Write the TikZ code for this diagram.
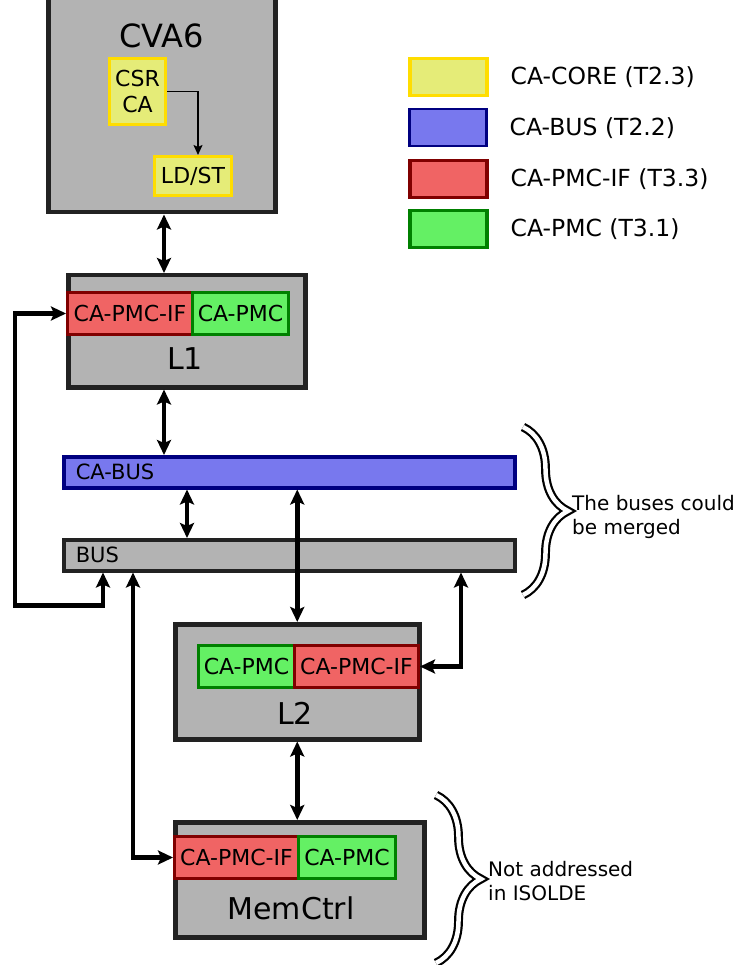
\documentclass[tikz,border=0pt]{standalone}
\usepackage{fontspec}
\setmainfont{DejaVu Sans}
\usetikzlibrary{arrows,arrows.meta,calc,positioning,decorations.pathreplacing}

\definecolor{blockgray}{HTML}{B3B3B3}
\definecolor{blockline}{HTML}{222222}
\definecolor{corefill}{HTML}{E5EC78}
\definecolor{coreline}{HTML}{FFDD00}
\definecolor{busfill}{HTML}{7878EE}
\definecolor{busline}{HTML}{000080}
\definecolor{iffill}{HTML}{F06464}
\definecolor{ifline}{HTML}{800000}
\definecolor{pmcfill}{HTML}{64F064}
\definecolor{pmcline}{HTML}{008000}

\begin{document}
\begin{tikzpicture}[x=1pt, y=-1pt]
			\tikzstyle{block}=[draw=blockline, fill=blockgray, line width=4.5pt, anchor=north west, inner sep=0pt]
			\tikzstyle{blockname}=[font=\fontsize{30}{36}\selectfont]
			\tikzstyle{part}=[line width=3pt, anchor=north west, inner sep=0pt, minimum height=42pt, font=\fontsize{22}{26}\selectfont]
			\tikzstyle{core}=[part, draw=coreline, fill=corefill]
			\tikzstyle{pmcif}=[part, draw=ifline, fill=iffill]
			\tikzstyle{pmc}=[part, draw=pmcline, fill=pmcfill]
			\tikzstyle{busbar}=[line width=3.5pt, anchor=north west, inner ysep=0pt, inner xsep=12pt, text width=427pt, align=left, minimum height=31pt, font=\fontsize{21}{25}\selectfont]
			\tikzstyle{link}=[{Stealth[length=15pt,width=14pt,inset=3pt]}-{Stealth[length=15pt,width=14pt,inset=3pt]}, line width=4.5pt]
			\tikzstyle{bigbrace}=[decorate, decoration={brace, amplitude=45pt}, double, double distance=4.5pt, line width=2.2pt]
			\tikzstyle{note}=[anchor=west, align=left, inner sep=0pt, font=\fontsize{20}{23.5}\selectfont]
			\tikzstyle{legtext}=[inner sep=0pt, font=\fontsize{23.5}{28}\selectfont]

			\useasboundingbox (0,0) rectangle (741,965);

			% core
			\node (cva) [block, minimum width=227pt, minimum height=222pt] at (46,-12) {};
			\node (cvaname) [blockname, font=\fontsize{32}{38}\selectfont] at ($(cva.north)+(0,48)$) {CVA6};
			\node (csr) [core, minimum width=56pt, minimum height=66pt, align=center, font=\fontsize{22}{26}\selectfont] at (108,57) {CSR\\CA};
			\node (ldst) [core, minimum width=77pt, minimum height=39pt] at (153,155) {LD/ST};
			\draw [-{Stealth[length=10pt,width=9pt,inset=2pt]}, line width=1.6pt] (csr.east) -| ($(ldst.north)+(5,0)$);

			% L1
			\node (lone) [block, minimum width=237pt, minimum height=112pt] at (66,273) {};
			\node (lonepmcif) [pmcif, minimum width=125pt] at (66,291) {CA-PMC-IF};
			\node (lonepmc) [pmc, minimum width=96pt] at (191,291) {CA-PMC};
			\node (lonename) [blockname] at (185,359) {L1};

			% buses
			\node (cabus) [busbar, draw=busline, fill=busfill] at (62,455) {CA-BUS};
			\node (bus) [busbar, draw=blockline, fill=blockgray] at (62,538) {BUS};

			% L2
			\node (ltwo) [block, minimum width=244pt, minimum height=115pt] at (173,622) {};
			\node (ltwopmc) [pmc, minimum width=96pt] at (197,644) {CA-PMC};
			\node (ltwopmcif) [pmcif, minimum width=124pt] at (293,644) {CA-PMC-IF};
			\node (ltwoname) [blockname] at (295,713) {L2};

			% memory controller
			\node (memctrl) [block, minimum width=249pt, minimum height=115pt] at (173,820) {};
			\node (mempmcif) [pmcif, minimum width=124pt] at (173,835) {CA-PMC-IF};
			\node (mempmc) [pmc, minimum width=97pt] at (297,835) {CA-PMC};
			\node (memname) [blockname] at (291,908) {MemCtrl};

			% connections
			\draw [link] ($(cva.south west)+(118,0)$) -- ($(lone.north west)+(98,0)$);
			\draw [link] ($(lone.south west)+(98,0)$) -- ($(cabus.north west)+(102,0)$);
			\draw [link] ($(cabus.south west)+(125,0)$) -- ($(bus.north west)+(125,0)$);
			\draw [link] (cabus.south -| ltwo.north) -- (ltwo.north);
			\draw [link] (lonepmcif.west) -- ++(-51,0) |- ($(bus.south west)+(41,33)$) -- ($(bus.south west)+(41,0)$);
			\draw [link] ($(bus.south west)+(71,0)$) |- (mempmcif.west);
			\draw [link] ($(bus.south west)+(399,0)$) |- (ltwopmcif.east);
			\draw [link] (ltwo.south) -- (ltwo.south |- memctrl.north);

			% notes
			\draw [bigbrace] (523,427) -- (523,595);
			\node (busnote) [note] at (572,517) {The buses could\\be merged};
			\draw [bigbrace] (436,795) -- (436,963);
			\node (memnote) [note] at (488,881) {Not addressed\\in ISOLDE};

			% legend
			\node (legcore) [core, minimum width=77pt, minimum height=37pt, line width=3.5pt] at (408,57) {};
			\node (legbus) [core, draw=busline, fill=busfill, minimum width=77pt, minimum height=37pt, line width=2.5pt] at (408,108) {};
			\node (legif) [pmcif, minimum width=77pt, minimum height=37pt, line width=3.5pt] at (408,159) {};
			\node (legpmc) [pmc, minimum width=77pt, minimum height=37pt, line width=3.5pt] at (408,209) {};
			\node (legcoretext) [legtext, right=22pt of legcore] {CA-CORE (T2.3)};
			\node (legbustext) [legtext, right=22pt of legbus] {CA-BUS (T2.2)};
			\node (legiftext) [legtext, right=22pt of legif] {CA-PMC-IF (T3.3)};
			\node (legpmctext) [legtext, right=22pt of legpmc] {CA-PMC (T3.1)};
		\end{tikzpicture}
\end{document}
